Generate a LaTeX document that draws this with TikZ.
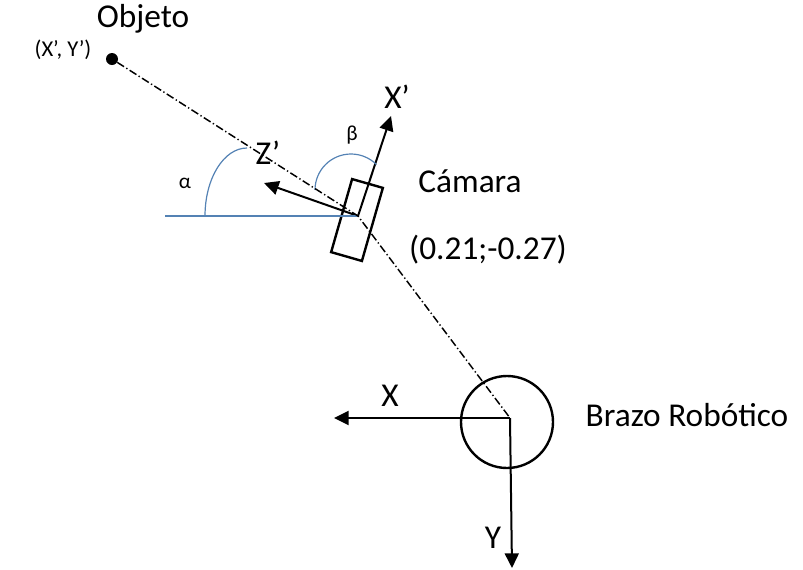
\documentclass[tikz,border=0pt]{standalone}
\usepackage{fontspec}
\setmainfont{Carlito}
\usetikzlibrary{arrows.meta}
\definecolor{arcblue}{RGB}{84,130,180}
\begin{document}
\begin{tikzpicture}[
  x=0.75pt, y=-0.75pt,
  big/.style={font=\fontsize{25}{28}\selectfont},
  sml/.style={font=\fontsize{17}{19}\selectfont},
  grk/.style={font=\fontsize{16}{18}\selectfont},
  arr/.style={line width=1.5pt,-{Triangle[width=10.5pt,length=11pt]}},
  axisline/.style={line width=0.9pt,arcblue},
  sight/.style={line width=1.1pt,dash pattern=on 6pt off 2pt on 1pt off 2pt}
]
\useasboundingbox (0,0) rectangle (803,569);
% objeto
\node[circle,fill,inner sep=0,minimum size=9pt] (obj) at (112,59) {};
\node[big] (objname) at (143,19) {Objeto};
\node[sml] (objpos) at (63,50) {(X’, Y’)};
% camara
\node[draw,rectangle,line width=1.8pt,minimum width=24pt,minimum height=57pt,rotate=-16] (cam) at (357,220) {};
\coordinate (piv) at (358,216);
\coordinate (xptip) at (391,116);
\coordinate (zptip) at (264,183);
\coordinate (horiz) at (165,216);
\draw[arr] (piv) -- (xptip);
\draw[arr] (piv) -- (zptip);
\draw[axisline] (horiz) -- (piv);
\node[big] (xp) at (397,97) {X’};
\node[big] (zp) at (268,153) {Z’};
\node[big] (camname) at (470,181) {Cámara};
\node[big] (campos) at (488,250) {(0.21;-0.27)};
% angulos
\draw[axisline] (205,216) arc[start angle=180,end angle=90,x radius=31.5pt,y radius=51pt];
\draw[axisline] (315,190) arc[start angle=180,end angle=45,radius=27pt];
\node[grk] (alpha) at (185,183) {α};
\node[grk] (beta) at (352,135) {β};
% brazo robotico
\node[draw,circle,line width=1.8pt,minimum size=69pt] (rob) at (507,422) {};
\coordinate (org) at (510,418);
\coordinate (xtip) at (334,418);
\coordinate (ytip) at (512,568);
\draw[arr] (org) -- (xtip);
\draw[arr] (org) -- (ytip);
\node[big] (xl) at (390,396) {X};
\node[big] (yl) at (493,538) {Y};
\node[big] (robname) at (687,415) {Brazo Robótico};
% linea de vista
\draw[sight] (obj) -- (piv) -- (org);
\end{tikzpicture}
\end{document}
